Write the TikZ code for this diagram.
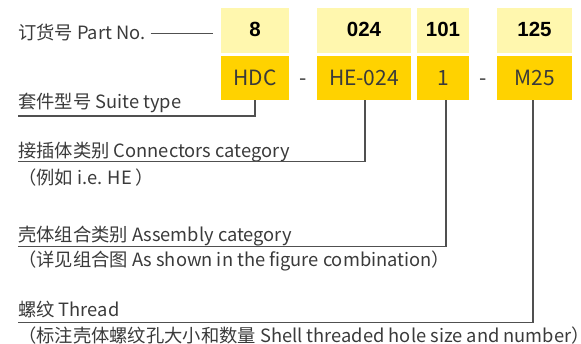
\documentclass[tikz,border=0pt]{standalone}
\usepackage{fontspec}
\setmainfont{Noto Sans CJK SC}
\newfontfamily\numfont{Liberation Sans}
\definecolor{lightY}{HTML}{FFF7AE}
\definecolor{goldY}{HTML}{FFD200}
\definecolor{txt}{HTML}{3A3A3A}
\definecolor{ln}{HTML}{505050}
\begin{document}
\begin{tikzpicture}[x=1pt,y=-1pt,
  numtxt/.style={font=\numfont\bfseries\fontsize{20.5}{22}\selectfont,text=black,anchor=base},
  codetxt/.style={font=\fontsize{21}{23}\selectfont,text=txt,anchor=base},
  lbl/.style={font=\fontsize{18.3}{20}\selectfont,text=txt,anchor=base west,inner sep=0},
  conn/.style={draw=ln,line width=1.3pt}]
\useasboundingbox (0,0) rectangle (581,343);
% boxes
\fill[lightY] (221,8) rectangle (289,53);
\fill[lightY] (317,8) rectangle (411,53);
\fill[lightY] (417,8) rectangle (469,53);
\fill[lightY] (497,8) rectangle (572,53);
\fill[goldY] (221,56) rectangle (289,100);
\fill[goldY] (317,56) rectangle (411,100);
\fill[goldY] (417,56) rectangle (469,100);
\fill[goldY] (497,56) rectangle (572,100);
% numbers
\node[numtxt] (n1) at (255,36.7) {8};
\node[numtxt] (n2) at (364,36.7) {024};
\node[numtxt] (n3) at (443,36.7) {101};
\node[numtxt] (n4) at (534.5,36.7) {125};
% codes
\node[codetxt] (c1) at (255,85.7) {HDC};
\node[codetxt] (c2) at (364,85.7) {HE-024};
\node[codetxt] (c3) at (443,85.7) {1};
\node[codetxt] (c4) at (534.5,85.7) {M25};
\node[codetxt] (d1) at (303,85) {-};
\node[codetxt] (d2) at (483,85) {-};
% part no
\node[lbl] (pn) at (18,39.3) {订货号 Part No.};
\coordinate (pnA) at (150.7,33.3);
\coordinate (pnB) at (213.3,33.3);
\draw[conn,line width=1pt] (pnA) -- (pnB);
% labels
\node[lbl] (l1) at (18,108.7) {套件型号 Suite type};
\node[lbl] (l2) at (18,157.3) {接插体类别 Connectors category};
\node[lbl] (s2) at (18,184) {（例如 i.e. HE ）};
\node[lbl] (l3) at (18,241.7) {壳体组合类别 Assembly category};
\node[lbl] (s3) at (18,266.7) {（详见组合图 As shown in the figure combination）};
\node[lbl] (l4) at (18,316.7) {螺纹 Thread};
\node[lbl] (s4) at (18,342) {（标注壳体螺纹孔大小和数量 Shell threaded hole size and number）};
% connectors
\coordinate (e1) at (18,116);
\coordinate (e2) at (18,161.5);
\coordinate (e3) at (18,246.7);
\coordinate (e4) at (18,322.7);
\draw[conn] (255,100) |- (e1);
\draw[conn] (365,100) |- (e2);
\draw[conn] (446,100) |- (e3);
\draw[conn] (533,100) |- (e4);
\end{tikzpicture}
\end{document}
